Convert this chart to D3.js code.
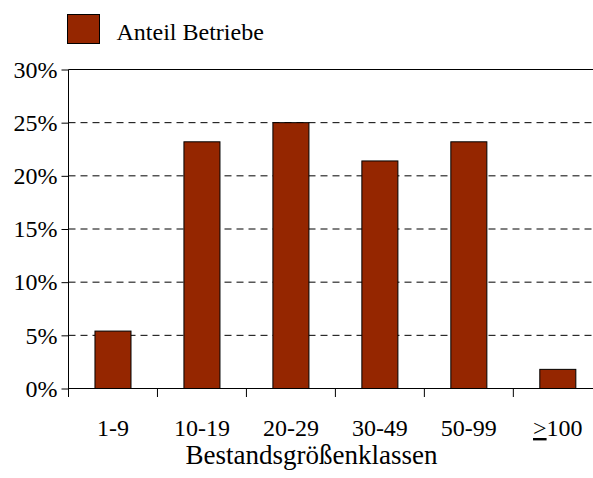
<!DOCTYPE html>
<html>
<head>
<meta charset="utf-8">
<script src="https://cdn.jsdelivr.net/npm/d3@7"></script>
<style>
  html, body { margin: 0; padding: 0; background: #fff; }
  svg { display: block; font-family: "Liberation Serif", "Times New Roman", serif; }
</style>
</head>
<body>
<svg id="chart" width="593" height="478"></svg>
<script>
// Size classes of holdings and share of farms in each class
const categories = ["1-9", "10-19", "20-29", "30-49", "50-99", ">=100"];
const shares = [5.4, 23.2, 25.0, 21.4, 23.2, 1.8];
const yTicks = [0, 5, 10, 15, 20, 25, 30];
const seriesName = "Anteil Betriebe";
const xTitle = "Bestandsgrößenklassen";

const svg = d3.select("#chart");
const plotLeft = 68.5, plotRight = 602.3, plotTop = 69.5, plotBottom = 388.5;
const barColor = "#952600";
const serif = "Liberation Serif";

const x = d3.scaleBand().domain(categories).range([plotLeft, plotRight]).paddingInner(0.595).paddingOuter(0.2975);
const y = d3.scaleLinear().domain([0, 30]).range([plotBottom, plotTop]);

// horizontal gridlines (dashed), top line solid
svg.append("g").selectAll("line").data(yTicks.filter(t => t > 0)).join("line")
  .attr("x1", plotLeft).attr("x2", 593)
  .attr("y1", d => y(d)).attr("y2", d => y(d))
  .attr("stroke", "#000").attr("stroke-width", 1)
  .attr("stroke-dasharray", d => d === 30 ? null : "7,5");

// bars
svg.append("g").selectAll("rect").data(categories).join("rect")
  .attr("x", d => x(d)).attr("width", x.bandwidth())
  .attr("y", (d, i) => y(shares[i])).attr("height", (d, i) => plotBottom - y(shares[i]))
  .attr("fill", barColor).attr("stroke", "#000").attr("stroke-width", 1);

// y axis
const yAxis = d3.axisLeft(y).tickValues(yTicks).tickFormat(d => d + "%").tickSize(7).tickPadding(4);
const gy = svg.append("g").attr("transform", `translate(${plotLeft},0)`).call(yAxis);
gy.attr("font-family", serif).attr("font-size", 24);
gy.select(".domain").attr("d", `M0,${plotTop}V${plotBottom + 8.5}`);
gy.selectAll("text").attr("fill", "#000");

// x axis line and band-boundary ticks
svg.append("line").attr("x1", plotLeft).attr("x2", 593).attr("y1", plotBottom).attr("y2", plotBottom).attr("stroke", "#000");
const step = x.step();
const boundaries = d3.range(1, categories.length).map(i => x(categories[i]) - step * x.paddingInner() / 2);
svg.append("g").selectAll("line").data(boundaries).join("line")
  .attr("x1", d => d).attr("x2", d => d).attr("y1", plotBottom).attr("y2", plotBottom + 8.5)
  .attr("stroke", "#000");

// category labels
const xl = svg.append("g").attr("font-family", serif).attr("font-size", 24)
  .selectAll("text").data(categories).join("text")
  .attr("x", d => x(d) + x.bandwidth() / 2).attr("y", 436)
  .attr("text-anchor", "middle").attr("fill", "#000");
xl.each(function(d) {
  const t = d3.select(this);
  if (d.startsWith(">=")) {
    t.append("tspan").attr("text-decoration", "underline").text(">");
    t.append("tspan").text(d.slice(2));
  } else {
    t.text(d);
  }
});

// axis title
svg.append("text").attr("x", 311.5).attr("y", 464).attr("text-anchor", "middle")
  .attr("font-family", serif).attr("font-size", 27).attr("fill", "#000").text(xTitle);

// legend
svg.append("rect").attr("x", 67.5).attr("y", 14.5).attr("width", 32).attr("height", 29)
  .attr("fill", barColor).attr("stroke", "#000");
svg.append("text").attr("x", 116.5).attr("y", 39.5)
  .attr("font-family", serif).attr("font-size", 24).attr("fill", "#000").text(seriesName);
</script>
</body>
</html>
